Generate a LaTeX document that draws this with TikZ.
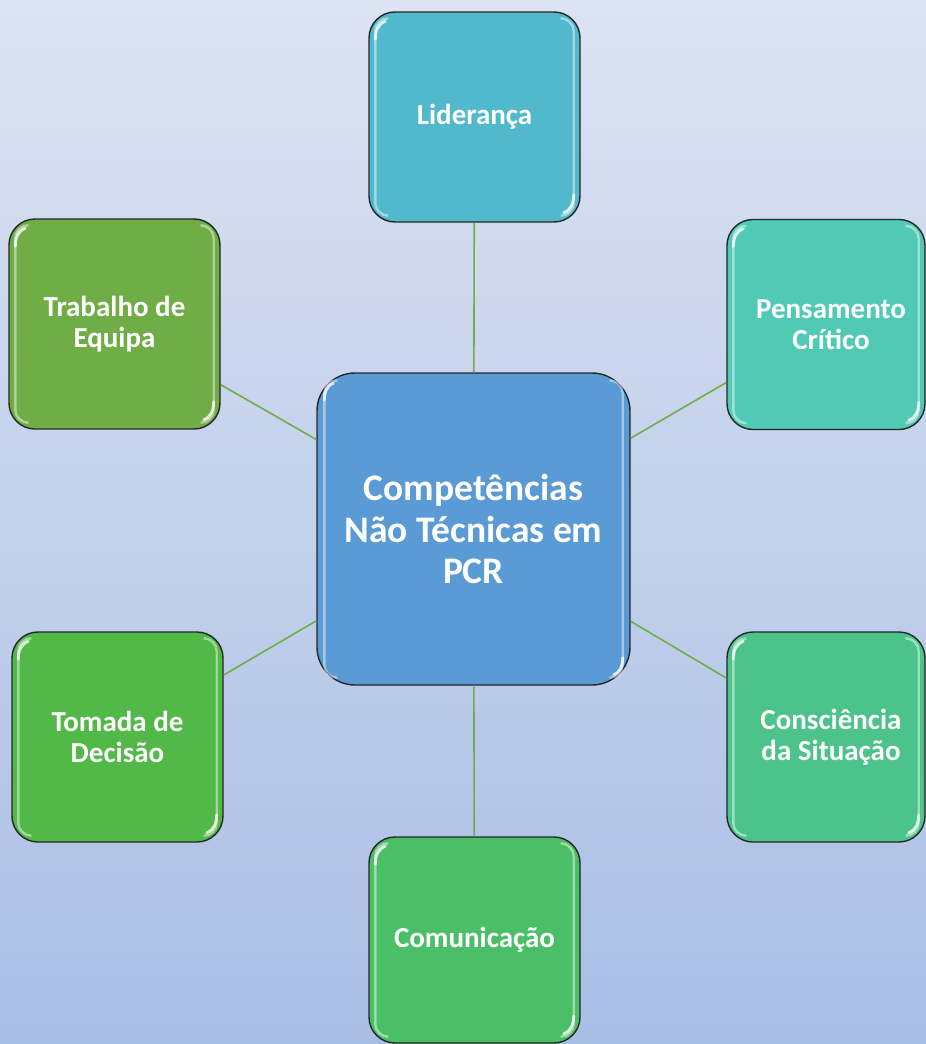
\documentclass[tikz,border=0pt]{standalone}
\usepackage{fontspec}
\setmainfont{Carlito}
\begin{document}
\begin{tikzpicture}[x=1pt,y=-1pt,
  box/.style={draw=black!85, line width=1.4pt, rounded corners=26pt,
    minimum width=211pt, minimum height=210pt, inner sep=0pt,
    text=white, align=center, font=\bfseries\fontsize{29}{31}\selectfont},
  hubbox/.style={box, rounded corners=38pt, minimum width=313pt, minimum height=312pt,
    font=\bfseries\fontsize{37.5}{41.5}\selectfont},
  link/.style={draw=linkgreen, line width=1.6pt},
  gloss/.style={draw=white, line width=2.4pt, opacity=0.45, rounded corners=13pt},
  shine/.style={draw=white, line width=2.8pt, opacity=0.8, line cap=round}
]
\definecolor{bgtop}{HTML}{DCE3F2}
\definecolor{bgbottom}{HTML}{A9BEE5}
\definecolor{linkgreen}{HTML}{70AD47}
\definecolor{cLid}{HTML}{52B8CC}
\definecolor{cHub}{HTML}{5B9BD5}
\definecolor{cTrab}{HTML}{70AD47}
\definecolor{cPens}{HTML}{50CAB4}
\definecolor{cTom}{HTML}{52B848}
\definecolor{cCons}{HTML}{4CC38A}
\definecolor{cCom}{HTML}{4ABF68}

% background
\shade[top color=bgtop, bottom color=bgbottom] (0,0) rectangle (926,1044);
\useasboundingbox (0,0) rectangle (926,1044);

% nodes
\node[hubbox, fill=cHub] (hub) at (473.5,529) {Competências\\Não Técnicas em\\PCR};
\node[box, fill=cLid] (lid) at (474.5,117) {Liderança};
\node[box, fill=cTrab] (trab) at (114.5,324) {Trabalho de\\Equipa};
\node[box, fill=cPens, minimum width=198pt] (pens) at (826,324.5)
  {\hspace*{10pt}Pensamento\\\hspace*{10pt}Crítico};
\node[box, fill=cTom] (tom) at (117.5,737) {Tomada de\\Decisão};
\node[box, fill=cCons, minimum width=198pt] (cons) at (826,737)
  {\hspace*{10pt}Consciência\\\hspace*{10pt}da Situação};
\node[box, fill=cCom, minimum height=206pt] (com) at (474.5,940) {Comunicação};

% connectors
\draw[link] (lid) -- (hub);
\draw[link] (trab) -- (hub);
\draw[link] (pens) -- (hub);
\draw[link] (tom) -- (hub);
\draw[link] (cons) -- (hub);
\draw[link] (com) -- (hub);

% glossy highlights along the vertical sides
\foreach \n/\r in {lid/7,trab/7,pens/7,tom/7,cons/7,com/7,hub/8} {
  \draw[gloss] ([shift={(19pt,-\r pt)}]\n.north west) -- ([shift={(\r pt,-\r pt)}]\n.north west)
     -- ([shift={(\r pt,\r pt)}]\n.south west) -- ([shift={(19pt,\r pt)}]\n.south west);
  \draw[gloss] ([shift={(-19pt,-\r pt)}]\n.north east) -- ([shift={(-\r pt,-\r pt)}]\n.north east)
     -- ([shift={(-\r pt,\r pt)}]\n.south east) -- ([shift={(-19pt,\r pt)}]\n.south east);
  % brighter arcs at the top-left and bottom-right corners
  \draw[shine] ([shift={(\r pt,-28pt)}]\n.north west) to[out=90,in=200] ([shift={(17pt,-\r pt-3pt)}]\n.north west);
  \draw[shine] ([shift={(-\r pt,28pt)}]\n.south east) to[out=-90,in=20] ([shift={(-17pt,\r pt+3pt)}]\n.south east);
}
\end{tikzpicture}
\end{document}
